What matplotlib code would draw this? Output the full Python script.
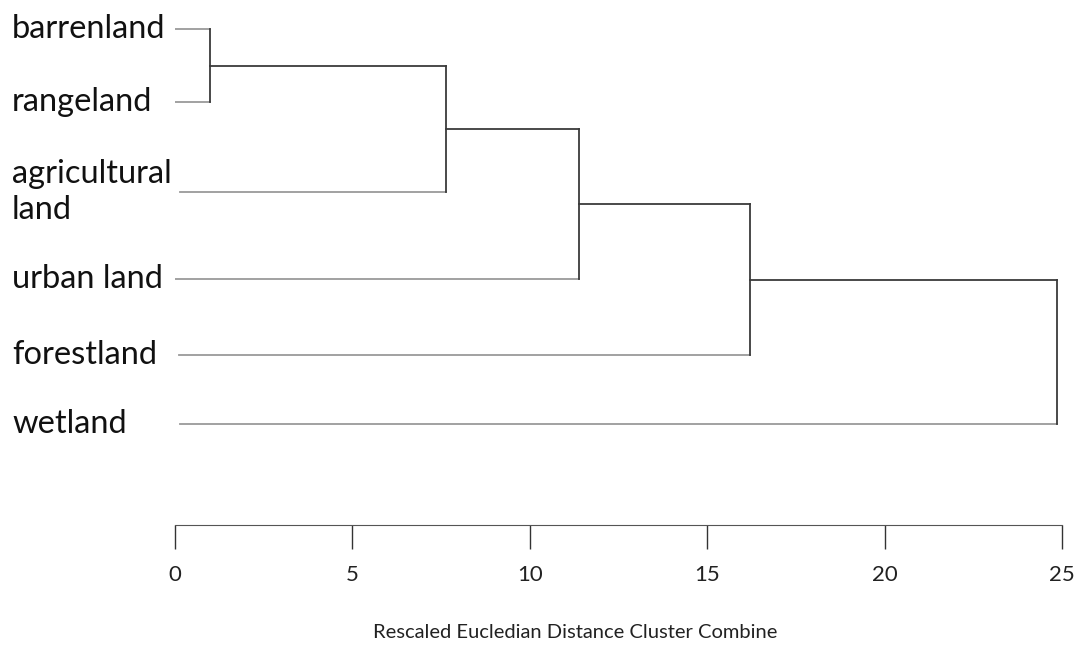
import matplotlib.pyplot as plt

# leaves, top to bottom
leaves = ["barrenland", "rangeland", "agricultural\nland", "urban land", "forestland", "wetland"]
# merges: (left cluster, right cluster, distance) ; clusters 0-5 are leaves, 6+ new
merges = [(0, 1, 1.0), (6, 2, 7.65), (7, 3, 11.4), (8, 4, 16.2), (9, 5, 24.85)]
ticks = [0, 5, 10, 15, 20, 25]
xlabel = "Rescaled Eucledian Distance Cluster Combine"

# row layout (uneven because of the two-line label)
rows = [0, 1, 2.23, 3.42, 4.46, 5.4]
leaf_start = [0.0, 0.0, 0.15, 0.0, 0.1, 0.15]

plt.rcParams['font.family'] = ['Lato', 'DejaVu Sans']

fig = plt.figure(figsize=(10.81, 6.45), dpi=100)
ax = fig.add_axes([175 / 1081, 120 / 645, 887 / 1081, 525 / 645])

pos = {i: (leaf_start[i], rows[i]) for i in range(len(leaves))}
light = "#9a9a9a"
dark = "#3a3a3a"
for k, (a, b, d) in enumerate(merges):
    xa, ya = pos[a]
    xb, yb = pos[b]
    ca = light if a < len(leaves) else dark
    ax.plot([xa, d], [ya, ya], color=ca, lw=1.3)
    ax.plot([xb, d], [yb, yb], color=light, lw=1.3)
    ax.plot([d, d], [ya, yb], color=dark, lw=1.3)
    pos[len(leaves) + k] = (d, (ya + yb) / 2)

for name, r in zip(leaves, rows):
    ax.text(-163 / 35.48, r, name, fontsize=23.5, ha="left", va="center",
            color="#111", linespacing=1.25)

ax.set_xlim(0, 25)
ax.set_ylim(6.78, -0.4)
ax.set_xticks(ticks)
ax.set_yticks([])
for s in ["top", "left", "right"]:
    ax.spines[s].set_visible(False)
ax.spines["bottom"].set_color("#555")
ax.tick_params(axis="x", direction="out", length=17, width=1, color="#333",
               pad=12, labelsize=16, labelcolor="#222")
fig.text(575 / 1081, 1 - 633 / 645, xlabel, fontsize=14.5, ha="center", va="center", color="#222")

fig.savefig("out.png", dpi=100)
